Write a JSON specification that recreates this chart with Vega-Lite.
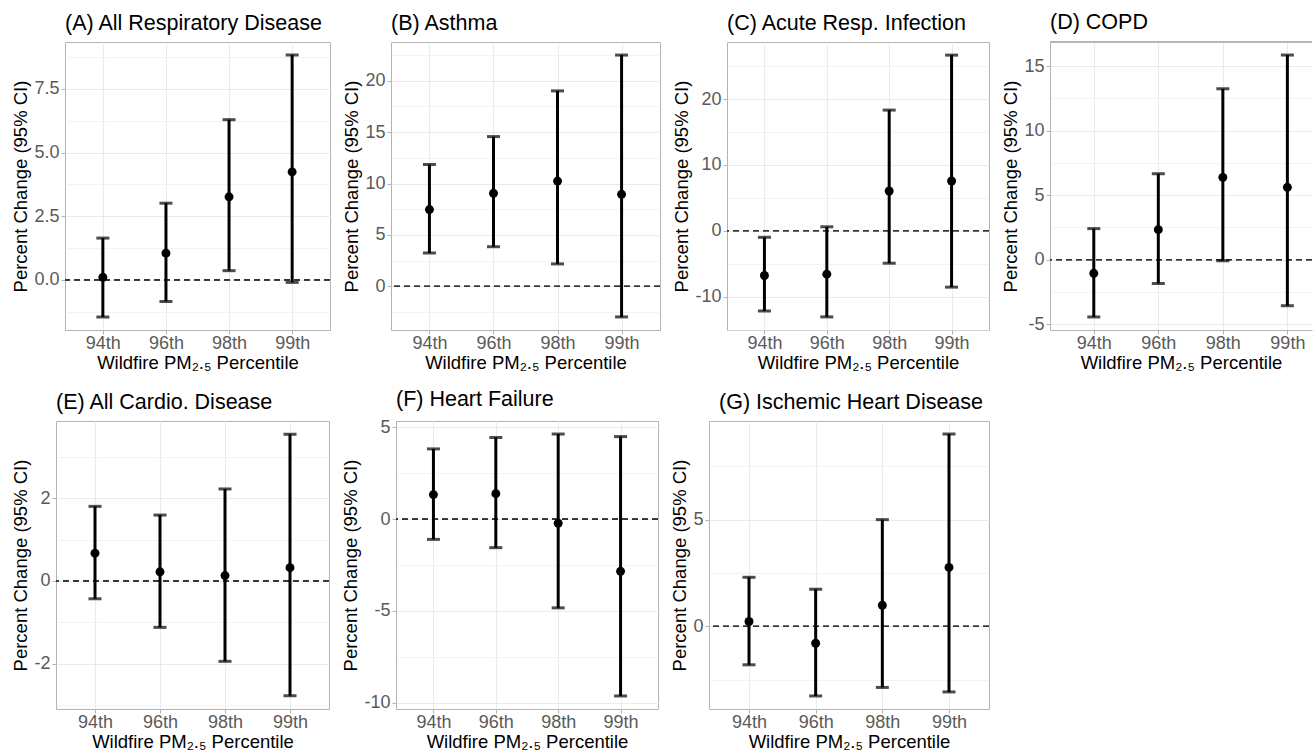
{
  "$schema": "https://vega.github.io/schema/vega-lite/v6.json",
  "padding": {"left": 0, "top": 12, "right": 0, "bottom": 0},
  "background": "white",
  "datasets": {
    "ci": [
      {"panel": "A", "pct": "94th", "est": 0.10, "lo": -1.46, "hi": 1.64},
      {"panel": "A", "pct": "96th", "est": 1.05, "lo": -0.85, "hi": 3.01},
      {"panel": "A", "pct": "98th", "est": 3.26, "lo": 0.36, "hi": 6.29},
      {"panel": "A", "pct": "99th", "est": 4.24, "lo": -0.10, "hi": 8.83},
      {"panel": "B", "pct": "94th", "est": 7.47, "lo": 3.25, "hi": 11.85},
      {"panel": "B", "pct": "96th", "est": 9.05, "lo": 3.86, "hi": 14.56},
      {"panel": "B", "pct": "98th", "est": 10.24, "lo": 2.19, "hi": 19.0},
      {"panel": "B", "pct": "99th", "est": 8.95, "lo": -2.96, "hi": 22.48},
      {"panel": "C", "pct": "94th", "est": -6.79, "lo": -12.18, "hi": -1.0},
      {"panel": "C", "pct": "96th", "est": -6.59, "lo": -13.08, "hi": 0.60},
      {"panel": "C", "pct": "98th", "est": 6.04, "lo": -4.93, "hi": 18.32},
      {"panel": "C", "pct": "99th", "est": 7.55, "lo": -8.56, "hi": 26.67},
      {"panel": "D", "pct": "94th", "est": -1.05, "lo": -4.43, "hi": 2.41},
      {"panel": "D", "pct": "96th", "est": 2.33, "lo": -1.84, "hi": 6.66},
      {"panel": "D", "pct": "98th", "est": 6.38, "lo": -0.08, "hi": 13.24},
      {"panel": "D", "pct": "99th", "est": 5.61, "lo": -3.56, "hi": 15.85},
      {"panel": "E", "pct": "94th", "est": 0.67, "lo": -0.43, "hi": 1.80},
      {"panel": "E", "pct": "96th", "est": 0.22, "lo": -1.12, "hi": 1.59},
      {"panel": "E", "pct": "98th", "est": 0.13, "lo": -1.94, "hi": 2.22},
      {"panel": "E", "pct": "99th", "est": 0.32, "lo": -2.77, "hi": 3.54},
      {"panel": "F", "pct": "94th", "est": 1.34, "lo": -1.10, "hi": 3.83},
      {"panel": "F", "pct": "96th", "est": 1.39, "lo": -1.55, "hi": 4.45},
      {"panel": "F", "pct": "98th", "est": -0.22, "lo": -4.83, "hi": 4.64},
      {"panel": "F", "pct": "99th", "est": -2.84, "lo": -9.63, "hi": 4.50},
      {"panel": "G", "pct": "94th", "est": 0.23, "lo": -1.80, "hi": 2.30},
      {"panel": "G", "pct": "96th", "est": -0.79, "lo": -3.26, "hi": 1.74},
      {"panel": "G", "pct": "98th", "est": 0.99, "lo": -2.86, "hi": 5.0},
      {"panel": "G", "pct": "99th", "est": 2.76, "lo": -3.07, "hi": 9.01}
    ]
  },
  "config": {
    "font": "Liberation Sans",
    "view": {"stroke": "#b3b3b3", "strokeWidth": 1},
    "title": {"font": "Liberation Sans", "fontSize": 21.5, "fontWeight": "normal", "color": "#000000", "anchor": "start", "frame": "group", "offset": 8},
    "axis": {"domain": false, "labelFont": "Liberation Sans", "labelFontSize": 18, "labelColor": "#5a5a5a", "titleFont": "Liberation Sans", "titleFontSize": 18.5, "titleFontWeight": "normal", "titleColor": "#000000", "tickColor": "#b3b3b3", "tickSize": 4, "labelPadding": 2, "gridColor": "#ebebeb", "gridWidth": 1.1, "labelOverlap": false, "labelFlush": false, "labelBound": false},
    "axisX": {"labelAngle": 0, "titlePadding": 1, "labelPadding": 0},
    "axisY": {"titlePadding": 3}
  },
  "columns": 1,
  "align": "none",
  "spacing": 16,
  "concat": [
    {
      "spacing": 10,
      "hconcat": [
        {"width": 1, "height": 1, "view": {"stroke": null}, "data": {"values": []}, "mark": "point"},
        {
          "width": 265, "height": 288,
          "title": {"text": "(A) All Respiratory Disease"},
          "data": {"name": "ci"},
          "transform": [{"filter": "datum.panel === 'A'"}],
          "resolve": {"axis": {"y": "independent"}},
          "layer": [
            {"mark": {"type": "rule", "strokeDash": [6, 4], "color": "#333333", "strokeWidth": 1.2},
             "encoding": {"y": {"datum": 0, "type": "quantitative",
               "scale": {"domain": [-1.97, 9.34], "nice": false, "zero": false},
               "axis": {"title": "Percent Change (95% CI)", "orient": "left", "values": [0, 2.5, 5, 7.5], "format": ".1f", "grid": true}}}},
            {"mark": {"type": "rule", "color": "#000000", "strokeWidth": 3},
             "encoding": {"x": {"field": "pct", "type": "ordinal", "sort": ["94th", "96th", "98th", "99th"], "title": "Wildfire PM₂.₅ Percentile", "scale": {"type": "point", "padding": 0.6}, "axis": {"grid": true}},
               "y": {"field": "lo", "type": "quantitative", "axis": {"orient": "right", "values": [-1.25, 1.25, 3.75, 6.25, 8.75], "labels": false, "ticks": false, "domain": false, "title": null, "grid": true, "gridWidth": 0.6}}, "y2": {"field": "hi"}}},
            {"mark": {"type": "tick", "color": "#000000", "size": 13, "thickness": 3},
             "encoding": {"x": {"field": "pct", "type": "ordinal", "sort": ["94th", "96th", "98th", "99th"]},
               "y": {"field": "lo", "type": "quantitative", "axis": null}}},
            {"mark": {"type": "tick", "color": "#000000", "size": 13, "thickness": 3},
             "encoding": {"x": {"field": "pct", "type": "ordinal", "sort": ["94th", "96th", "98th", "99th"]},
               "y": {"field": "hi", "type": "quantitative", "axis": null}}},
            {"mark": {"type": "point", "filled": true, "color": "#000000", "size": 80, "opacity": 1},
             "encoding": {"x": {"field": "pct", "type": "ordinal", "sort": ["94th", "96th", "98th", "99th"]},
               "y": {"field": "est", "type": "quantitative", "axis": null}}}
          ]
        },
        {
          "width": 269, "height": 288,
          "title": {"text": "(B) Asthma"},
          "data": {"name": "ci"},
          "transform": [{"filter": "datum.panel === 'B'"}],
          "resolve": {"axis": {"y": "independent"}},
          "layer": [
            {"mark": {"type": "rule", "strokeDash": [6, 4], "color": "#333333", "strokeWidth": 1.2},
             "encoding": {"y": {"datum": 0, "type": "quantitative",
               "scale": {"domain": [-4.23, 23.75], "nice": false, "zero": false},
               "axis": {"title": "Percent Change (95% CI)", "orient": "left", "values": [0, 5, 10, 15, 20], "labelExpr": "toString(datum.value)", "grid": true}}}},
            {"mark": {"type": "rule", "color": "#000000", "strokeWidth": 3},
             "encoding": {"x": {"field": "pct", "type": "ordinal", "sort": ["94th", "96th", "98th", "99th"], "title": "Wildfire PM₂.₅ Percentile", "scale": {"type": "point", "padding": 0.6}, "axis": {"grid": true}},
               "y": {"field": "lo", "type": "quantitative", "axis": {"orient": "right", "values": [-2.5, 2.5, 7.5, 12.5, 17.5, 22.5], "labels": false, "ticks": false, "domain": false, "title": null, "grid": true, "gridWidth": 0.6}}, "y2": {"field": "hi"}}},
            {"mark": {"type": "tick", "color": "#000000", "size": 13, "thickness": 3},
             "encoding": {"x": {"field": "pct", "type": "ordinal", "sort": ["94th", "96th", "98th", "99th"]},
               "y": {"field": "lo", "type": "quantitative", "axis": null}}},
            {"mark": {"type": "tick", "color": "#000000", "size": 13, "thickness": 3},
             "encoding": {"x": {"field": "pct", "type": "ordinal", "sort": ["94th", "96th", "98th", "99th"]},
               "y": {"field": "hi", "type": "quantitative", "axis": null}}},
            {"mark": {"type": "point", "filled": true, "color": "#000000", "size": 80, "opacity": 1},
             "encoding": {"x": {"field": "pct", "type": "ordinal", "sort": ["94th", "96th", "98th", "99th"]},
               "y": {"field": "est", "type": "quantitative", "axis": null}}}
          ]
        },
        {
          "width": 262, "height": 288,
          "title": {"text": "(C) Acute Resp. Infection"},
          "data": {"name": "ci"},
          "transform": [{"filter": "datum.panel === 'C'"}],
          "resolve": {"axis": {"y": "independent"}},
          "layer": [
            {"mark": {"type": "rule", "strokeDash": [6, 4], "color": "#333333", "strokeWidth": 1.2},
             "encoding": {"y": {"datum": 0, "type": "quantitative",
               "scale": {"domain": [-15.07, 28.66], "nice": false, "zero": false},
               "axis": {"title": "Percent Change (95% CI)", "orient": "left", "values": [-10, 0, 10, 20], "labelExpr": "toString(datum.value)", "grid": true}}}},
            {"mark": {"type": "rule", "color": "#000000", "strokeWidth": 3},
             "encoding": {"x": {"field": "pct", "type": "ordinal", "sort": ["94th", "96th", "98th", "99th"], "title": "Wildfire PM₂.₅ Percentile", "scale": {"type": "point", "padding": 0.6}, "axis": {"grid": true}},
               "y": {"field": "lo", "type": "quantitative", "axis": {"orient": "right", "values": [-15, -5, 5, 15, 25], "labels": false, "ticks": false, "domain": false, "title": null, "grid": true, "gridWidth": 0.6}}, "y2": {"field": "hi"}}},
            {"mark": {"type": "tick", "color": "#000000", "size": 13, "thickness": 3},
             "encoding": {"x": {"field": "pct", "type": "ordinal", "sort": ["94th", "96th", "98th", "99th"]},
               "y": {"field": "lo", "type": "quantitative", "axis": null}}},
            {"mark": {"type": "tick", "color": "#000000", "size": 13, "thickness": 3},
             "encoding": {"x": {"field": "pct", "type": "ordinal", "sort": ["94th", "96th", "98th", "99th"]},
               "y": {"field": "hi", "type": "quantitative", "axis": null}}},
            {"mark": {"type": "point", "filled": true, "color": "#000000", "size": 80, "opacity": 1},
             "encoding": {"x": {"field": "pct", "type": "ordinal", "sort": ["94th", "96th", "98th", "99th"]},
               "y": {"field": "est", "type": "quantitative", "axis": null}}}
          ]
        },
        {
          "width": 262, "height": 288,
          "title": {"text": "(D) COPD"},
          "view": {"stroke": null},
          "data": {"name": "ci"},
          "transform": [{"filter": "datum.panel === 'D'"}],
          "resolve": {"axis": {"y": "independent"}},
          "layer": [
            {"mark": {"type": "rule", "strokeDash": [6, 4], "color": "#333333", "strokeWidth": 1.2},
             "encoding": {"y": {"datum": 0, "type": "quantitative",
               "scale": {"domain": [-5.44, 16.86], "nice": false, "zero": false},
               "axis": {"title": "Percent Change (95% CI)", "orient": "left", "values": [-5, 0, 5, 10, 15], "labelExpr": "toString(datum.value)", "grid": true, "domain": true, "domainColor": "#b3b3b3"}}}},
            {"mark": {"type": "rule", "color": "#b3b3b3", "strokeWidth": 1},
             "encoding": {"y": {"datum": 16.86, "type": "quantitative", "axis": null}}},
            {"mark": {"type": "rule", "color": "#000000", "strokeWidth": 3},
             "encoding": {"x": {"field": "pct", "type": "ordinal", "sort": ["94th", "96th", "98th", "99th"], "title": "Wildfire PM₂.₅ Percentile", "scale": {"type": "point", "padding": 0.53, "align": 0.64}, "axis": {"grid": true, "domain": true, "domainColor": "#b3b3b3"}},
               "y": {"field": "lo", "type": "quantitative", "axis": {"orient": "right", "values": [-2.5, 2.5, 7.5, 12.5], "labels": false, "ticks": false, "domain": false, "title": null, "grid": true, "gridWidth": 0.6}}, "y2": {"field": "hi"}}},
            {"mark": {"type": "tick", "color": "#000000", "size": 13, "thickness": 3},
             "encoding": {"x": {"field": "pct", "type": "ordinal", "sort": ["94th", "96th", "98th", "99th"]},
               "y": {"field": "lo", "type": "quantitative", "axis": null}}},
            {"mark": {"type": "tick", "color": "#000000", "size": 13, "thickness": 3},
             "encoding": {"x": {"field": "pct", "type": "ordinal", "sort": ["94th", "96th", "98th", "99th"]},
               "y": {"field": "hi", "type": "quantitative", "axis": null}}},
            {"mark": {"type": "point", "filled": true, "color": "#000000", "size": 80, "opacity": 1},
             "encoding": {"x": {"field": "pct", "type": "ordinal", "sort": ["94th", "96th", "98th", "99th"]},
               "y": {"field": "est", "type": "quantitative", "axis": null}}}
          ]
        }
      ]
    },
    {
      "spacing": 10,
      "hconcat": [
        {"width": 1, "height": 1, "view": {"stroke": null}, "data": {"values": []}, "mark": "point"},
        {
          "width": 273, "height": 288,
          "title": {"text": "(E) All Cardio. Disease"},
          "data": {"name": "ci"},
          "transform": [{"filter": "datum.panel === 'E'"}],
          "resolve": {"axis": {"y": "independent"}},
          "layer": [
            {"mark": {"type": "rule", "strokeDash": [6, 4], "color": "#333333", "strokeWidth": 1.2},
             "encoding": {"y": {"datum": 0, "type": "quantitative",
               "scale": {"domain": [-3.09, 3.86], "nice": false, "zero": false},
               "axis": {"title": "Percent Change (95% CI)", "orient": "left", "values": [-2, 0, 2], "labelExpr": "toString(datum.value)", "grid": true}}}},
            {"mark": {"type": "rule", "color": "#000000", "strokeWidth": 3},
             "encoding": {"x": {"field": "pct", "type": "ordinal", "sort": ["94th", "96th", "98th", "99th"], "title": "Wildfire PM₂.₅ Percentile", "scale": {"type": "point", "padding": 0.6}, "axis": {"grid": true}},
               "y": {"field": "lo", "type": "quantitative", "axis": {"orient": "right", "values": [-3, -1, 1, 3], "labels": false, "ticks": false, "domain": false, "title": null, "grid": true, "gridWidth": 0.6}}, "y2": {"field": "hi"}}},
            {"mark": {"type": "tick", "color": "#000000", "size": 13, "thickness": 3},
             "encoding": {"x": {"field": "pct", "type": "ordinal", "sort": ["94th", "96th", "98th", "99th"]},
               "y": {"field": "lo", "type": "quantitative", "axis": null}}},
            {"mark": {"type": "tick", "color": "#000000", "size": 13, "thickness": 3},
             "encoding": {"x": {"field": "pct", "type": "ordinal", "sort": ["94th", "96th", "98th", "99th"]},
               "y": {"field": "hi", "type": "quantitative", "axis": null}}},
            {"mark": {"type": "point", "filled": true, "color": "#000000", "size": 80, "opacity": 1},
             "encoding": {"x": {"field": "pct", "type": "ordinal", "sort": ["94th", "96th", "98th", "99th"]},
               "y": {"field": "est", "type": "quantitative", "axis": null}}}
          ]
        },
        {
          "width": 262, "height": 288,
          "title": {"text": "(F) Heart Failure"},
          "data": {"name": "ci"},
          "transform": [{"filter": "datum.panel === 'F'"}],
          "resolve": {"axis": {"y": "independent"}},
          "layer": [
            {"mark": {"type": "rule", "strokeDash": [6, 4], "color": "#333333", "strokeWidth": 1.2},
             "encoding": {"y": {"datum": 0, "type": "quantitative",
               "scale": {"domain": [-10.34, 5.35], "nice": false, "zero": false},
               "axis": {"title": "Percent Change (95% CI)", "orient": "left", "values": [-10, -5, 0, 5], "labelExpr": "toString(datum.value)", "grid": true}}}},
            {"mark": {"type": "rule", "color": "#000000", "strokeWidth": 3},
             "encoding": {"x": {"field": "pct", "type": "ordinal", "sort": ["94th", "96th", "98th", "99th"], "title": "Wildfire PM₂.₅ Percentile", "scale": {"type": "point", "padding": 0.6}, "axis": {"grid": true}},
               "y": {"field": "lo", "type": "quantitative", "axis": {"orient": "right", "values": [-7.5, -2.5, 2.5], "labels": false, "ticks": false, "domain": false, "title": null, "grid": true, "gridWidth": 0.6}}, "y2": {"field": "hi"}}},
            {"mark": {"type": "tick", "color": "#000000", "size": 13, "thickness": 3},
             "encoding": {"x": {"field": "pct", "type": "ordinal", "sort": ["94th", "96th", "98th", "99th"]},
               "y": {"field": "lo", "type": "quantitative", "axis": null}}},
            {"mark": {"type": "tick", "color": "#000000", "size": 13, "thickness": 3},
             "encoding": {"x": {"field": "pct", "type": "ordinal", "sort": ["94th", "96th", "98th", "99th"]},
               "y": {"field": "hi", "type": "quantitative", "axis": null}}},
            {"mark": {"type": "point", "filled": true, "color": "#000000", "size": 80, "opacity": 1},
             "encoding": {"x": {"field": "pct", "type": "ordinal", "sort": ["94th", "96th", "98th", "99th"]},
               "y": {"field": "est", "type": "quantitative", "axis": null}}}
          ]
        },
        {
          "width": 280, "height": 288,
          "title": {"text": "(G) Ischemic Heart Disease", "dx": 10},
          "data": {"name": "ci"},
          "transform": [{"filter": "datum.panel === 'G'"}],
          "resolve": {"axis": {"y": "independent"}},
          "layer": [
            {"mark": {"type": "rule", "strokeDash": [6, 4], "color": "#333333", "strokeWidth": 1.2},
             "encoding": {"y": {"datum": 0, "type": "quantitative",
               "scale": {"domain": [-3.87, 9.62], "nice": false, "zero": false},
               "axis": {"title": "Percent Change (95% CI)", "orient": "left", "values": [0, 5], "labelExpr": "toString(datum.value)", "grid": true}}}},
            {"mark": {"type": "rule", "color": "#000000", "strokeWidth": 3},
             "encoding": {"x": {"field": "pct", "type": "ordinal", "sort": ["94th", "96th", "98th", "99th"], "title": "Wildfire PM₂.₅ Percentile", "scale": {"type": "point", "padding": 0.6}, "axis": {"grid": true}},
               "y": {"field": "lo", "type": "quantitative", "axis": {"orient": "right", "values": [-2.5, 2.5, 7.5], "labels": false, "ticks": false, "domain": false, "title": null, "grid": true, "gridWidth": 0.6}}, "y2": {"field": "hi"}}},
            {"mark": {"type": "tick", "color": "#000000", "size": 13, "thickness": 3},
             "encoding": {"x": {"field": "pct", "type": "ordinal", "sort": ["94th", "96th", "98th", "99th"]},
               "y": {"field": "lo", "type": "quantitative", "axis": null}}},
            {"mark": {"type": "tick", "color": "#000000", "size": 13, "thickness": 3},
             "encoding": {"x": {"field": "pct", "type": "ordinal", "sort": ["94th", "96th", "98th", "99th"]},
               "y": {"field": "hi", "type": "quantitative", "axis": null}}},
            {"mark": {"type": "point", "filled": true, "color": "#000000", "size": 80, "opacity": 1},
             "encoding": {"x": {"field": "pct", "type": "ordinal", "sort": ["94th", "96th", "98th", "99th"]},
               "y": {"field": "est", "type": "quantitative", "axis": null}}}
          ]
        }
      ]
    }
  ]
}
